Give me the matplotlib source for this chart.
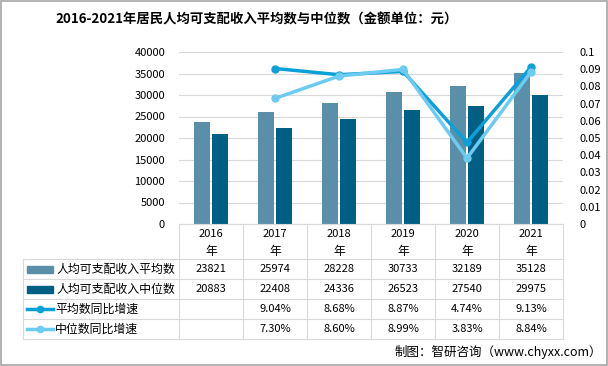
import matplotlib.pyplot as plt
import numpy as np
from matplotlib.patches import Rectangle
from matplotlib.lines import Line2D

plt.rcParams['font.family'] = ['Noto Sans CJK SC', 'DejaVu Sans']

years = ["2016", "2017", "2018", "2019", "2020", "2021"]
mean_income = [23821, 25974, 28228, 30733, 32189, 35128]
median_income = [20883, 22408, 24336, 26523, 27540, 29975]
mean_growth = [None, 0.0904, 0.0868, 0.0887, 0.0474, 0.0913]
median_growth = [None, 0.0730, 0.0860, 0.0899, 0.0383, 0.0884]

names = ["人均可支配收入平均数", "人均可支配收入中位数", "平均数同比增速", "中位数同比增速"]
C_MEAN = "#5b8fa8"
C_MED = "#005f83"
C_LMEAN = "#0ca0d8"
C_LMED = "#6ccbf0"
GRID = "#d9d9d9"

W, H = 608, 366
fig = plt.figure(figsize=(W / 100, H / 100), dpi=100)

# plot area in pixels
L, R, T, B = 179, 563, 52, 224
ax = fig.add_axes([L / W, 1 - B / H, (R - L) / W, (B - T) / H])
ax2 = ax.twinx()

x = np.arange(len(years))
ax.bar(x - 0.14, mean_income, width=0.24, color=C_MEAN, zorder=2)
ax.bar(x + 0.14, median_income, width=0.24, color=C_MED, zorder=2)
ax.set_xlim(-0.5, len(years) - 0.5)
ax.set_ylim(0, 40000)
ax.set_yticks(np.arange(0, 40001, 5000))
ax.set_xticks([])
ax.grid(axis='y', color=GRID, lw=0.8, zorder=0)
ax.set_axisbelow(True)

xs = x[1:]
ax2.plot(xs, mean_growth[1:], color=C_LMEAN, lw=2.5, marker='o', ms=5, zorder=3)
ax2.plot(xs, median_growth[1:], color=C_LMED, lw=2.5, marker='o', ms=5, zorder=3)
ax2.set_ylim(0, 0.1)
ax2.set_yticks(np.arange(0, 0.1001, 0.01))
ax2.set_yticklabels(["0"] + ["%g" % round(v, 2) for v in np.arange(0.01, 0.1001, 0.01)])

for a in (ax, ax2):
    for s in a.spines.values():
        s.set_visible(False)
    a.tick_params(length=0, labelsize=8, colors="#000000")
ax.tick_params(axis='y', pad=10)
ax2.tick_params(axis='y', pad=12)

# table overlay in pixel coords
tb = fig.add_axes([0, 0, 1, 1], facecolor='none')
tb.set_xlim(0, W)
tb.set_ylim(H, 0)
tb.axis('off')

col_w = (R - L) / len(years)
rows_y = [224, 259, 279, 299, 319, 339]
left_x = 23

# header
tb.plot([L, R], [rows_y[0], rows_y[0]], color=GRID, lw=0.8)
for i in range(len(years) + 1):
    xx = L + i * col_w
    tb.plot([xx, xx], [rows_y[0], rows_y[-1]], color=GRID, lw=0.8)
tb.plot([left_x, left_x], [rows_y[1], rows_y[-1]], color=GRID, lw=0.8)
for yy in rows_y[1:]:
    tb.plot([left_x, R], [yy, yy], color=GRID, lw=0.8)

for i, yr in enumerate(years):
    cx = L + (i + 0.5) * col_w
    tb.text(cx, 234, yr, ha='center', va='center', fontsize=8)
    tb.text(cx, 251, "年", ha='center', va='center', fontsize=8.5)

row_vals = [
    [str(v) for v in mean_income],
    [str(v) for v in median_income],
    ["" if v is None else "%.2f%%" % (v * 100) for v in mean_growth],
    ["" if v is None else "%.2f%%" % (v * 100) for v in median_growth],
]
colors = [C_MEAN, C_MED, C_LMEAN, C_LMED]
for r in range(4):
    cy = (rows_y[r + 1] + rows_y[r + 2]) / 2
    if r < 2:
        tb.add_patch(Rectangle((27, cy - 3.5), 26, 7, color=colors[r]))
        tx = 56
    else:
        tb.add_line(Line2D([27, 53], [cy, cy], color=colors[r], lw=2.5))
        tb.plot([40], [cy], marker='o', ms=4.5, color=colors[r])
        tx = 55
    tb.text(tx, cy, names[r], ha='left', va='center', fontsize=8.6)
    for i, s in enumerate(row_vals[r]):
        tb.text(L + (i + 0.5) * col_w, cy, s, ha='center', va='center', fontsize=8)

tb.text(257, 20, "2016-2021年居民人均可支配收入平均数与中位数（金额单位：元）",
        ha='center', va='center', fontsize=9.6, fontweight='bold')
tb.text(602, 352, "制图：智研咨询（www.chyxx.com）", ha='right', va='center', fontsize=9)

fig.add_artist(Rectangle((0.001, 0.002), 0.997, 0.995, transform=fig.transFigure,
                         fill=False, edgecolor="#a6a6a6", lw=1.2))

fig.savefig("out.png", dpi=100)
